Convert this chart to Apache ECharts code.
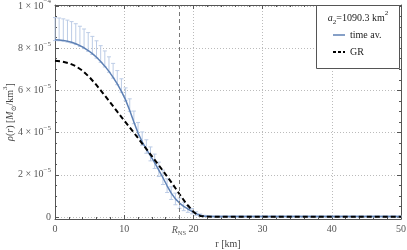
<!DOCTYPE html>
<html><head><meta charset="utf-8">
<script src="https://cdn.jsdelivr.net/npm/echarts@6/dist/echarts.min.js"></script>
<style>html,body{margin:0;padding:0;background:#fff}#c{width:407px;height:250px}</style>
</head><body><div id="c"></div>
<script>
// ---- data (density in units of 1e-5 Msun/km^3) ----
const rTimeAv = [0,0.6,1.2,1.8,2.4,3,3.6,4.2,4.8,5.4,6,6.6,7.2,7.8,8.4,9,9.6,10.2,10.8,11.4,12,12.6,13.2,13.8,14.4,15,15.6,16.2,16.8,17.4,18,18.6,19.2,19.8,20.4,21,21.6,22.2,22.8,23.4,24,24.6,25.2,25.8,26.4,27,27.6,28.2,28.8,29.4,30,30.6,31.2,31.8,32.4,33,33.6,34.2,34.8,35.4,36,36.6,37.2,37.8,38.4,39,39.6,40.2,40.8,41.4,42,42.6,43.2,43.8,44.4,45,45.6,46.2,46.8,47.4,48,48.6,49.2,49.8];
const rhoTimeAv = [8.40,8.39,8.37,8.33,8.28,8.21,8.12,8.02,7.89,7.74,7.57,7.37,7.15,6.90,6.62,6.31,5.95,5.55,5.05,4.50,3.98,3.56,3.22,2.90,2.58,2.22,1.86,1.48,1.13,0.86,0.66,0.50,0.38,0.27,0.16,0.08,0.04,0.03,
0.02,0.02,0.02,0.02,0.02,0.02,0.02,0.02,0.02,0.02,0.02,0.02,0.02,0.02,0.02,0.02,0.02,0.02,0.02,0.02,0.02,0.02,0.02,0.02,0.02,0.02,0.02,0.02,0.02,0.02,0.02,0.02,0.02,0.02,0.02,0.02,0.02,0.02,0.02,0.02,0.02,0.02,0.02,0.02,0.02,0.02];
const errUp = [1.05,1.04,1.02,1.00,0.98,0.95,0.92,0.89,0.85,0.82,0.78,0.75,0.72,0.69,0.66,0.63,0.60,0.57,0.55,0.52,0.50,0.47,0.44,0.42,0.40,0.38,0.36,0.33,0.30,0.27,0.24,0.20,0.17,0.13,0.09,0.06,0.04,0.03,
0.03,0.03,0.03,0.03,0.03,0.03,0.03,0.03,0.03,0.03,0.03,0.03,0.03,0.03,0.03,0.03,0.03,0.03,0.03,0.03,0.03,0.03,0.03,0.03,0.03,0.03,0.03,0.03,0.03,0.03,0.03,0.03,0.03,0.03,0.03,0.03,0.03,0.03,0.03,0.03,0.03,0.03,0.03,0.03,0.03,0.03];
const errDown = [0.04,0.04,0.04,0.04,0.04,0.04,0.04,0.04,0.04,0.04,0.04,0.04,0.04,0.04,0.04,0.04,0.04,0.04,0.04,0.08,0.12,0.16,0.20,0.24,0.28,0.30,0.32,0.32,0.30,0.28,0.25,0.20,0.16,0.12,0.08,0.05,0.03,0.02,
0.02,0.02,0.02,0.02,0.02,0.02,0.02,0.02,0.02,0.02,0.02,0.02,0.02,0.02,0.02,0.02,0.02,0.02,0.02,0.02,0.02,0.02,0.02,0.02,0.02,0.02,0.02,0.02,0.02,0.02,0.02,0.02,0.02,0.02,0.02,0.02,0.02,0.02,0.02,0.02,0.02,0.02,0.02,0.02,0.02,0.02];
const rGR = [0,1,2,3,4,5,6,7,8,9,10,11,12,13,14,15,16,17,18,19,20,20.5,21,21.5,22,23,25,30,40,50];
const rhoGR = [7.40,7.37,7.29,7.15,6.93,6.62,6.25,5.84,5.42,4.99,4.57,4.16,3.74,3.31,2.88,2.45,2.01,1.56,1.08,0.62,0.25,0.12,0.05,0.03,0.02,0.01,0.01,0.01,0.01,0.01];
const R_NS = 17.9;
const xTicks = [0,10,20,30,40,50];
const a2Value = '1090.3';
const seriesNames = ['time av.', 'GR'];

const FONT = '"Liberation Serif","DejaVu Serif",serif';
const BLUE = '#5E81B5';
const FRAME = '#555';

const chart = echarts.init(document.getElementById('c'), null, {renderer:'canvas'});

function fmtY(v){
  if (v < -1e-6) return '';
  const k = Math.round(v);
  if (Math.abs(v-k) > 1e-6) return '';
  if (k === 0) return '{b|0}';
  if (k === 10) return '{b|1 × 10}{e|−4}';
  return '{b|' + k + ' × 10}{e|−5}';
}

const barData = rTimeAv.map((r,i)=>[r, rhoTimeAv[i]-errDown[i], rhoTimeAv[i]+errUp[i]]);
const yMin = -0.095, yMax = 10.047;

const tickCommon = {show:true, inside:true, length:4, lineStyle:{color:FRAME, width:1}};
const minorCommon = {show:true, length:2, lineStyle:{color:FRAME, width:1}};

chart.setOption({
  animation:false,
  backgroundColor:'#fff',
  grid:{left:55, right:6, top:5, bottom:31, containLabel:false, outerBoundsMode:'none'},
  xAxis:[{
    type:'value', min:xTicks[0], max:xTicks[xTicks.length-1], interval:10, position:'bottom',
    axisLine:{show:true, onZero:false, lineStyle:{color:FRAME, width:1}},
    axisTick:tickCommon, minorTick:Object.assign({splitNumber:5}, minorCommon),
    splitLine:{show:true, lineStyle:{color:'#bbb', type:[1,2], width:1}},
    axisLabel:{margin:5, fontFamily:FONT, fontSize:10, color:'#555'},
    name:'r [km]', nameLocation:'middle', nameGap:18,
    nameTextStyle:{fontFamily:FONT, fontSize:10, color:'#444'}
  },{
    type:'value', min:xTicks[0], max:xTicks[xTicks.length-1], interval:10, position:'top',
    axisLine:{show:true, onZero:false, lineStyle:{color:FRAME, width:1}},
    axisTick:tickCommon, minorTick:Object.assign({splitNumber:5}, minorCommon),
    splitLine:{show:false}, axisLabel:{show:false}
  }],
  yAxis:[{
    type:'value', min:yMin, max:yMax, position:'left',
    axisLine:{show:true, onZero:false, lineStyle:{color:FRAME, width:1}},
    axisTick:tickCommon, minorTick:Object.assign({splitNumber:4}, minorCommon),
    splitLine:{show:true, lineStyle:{color:'#bbb', type:[1,2], width:1}},
    axisLabel:{formatter:fmtY, margin:4, color:'#555', showMinLabel:true, showMaxLabel:true,
      rich:{
        b:{fontFamily:FONT, fontSize:10, color:'#555', lineHeight:16},
        e:{fontFamily:FONT, fontSize:7, color:'#555', lineHeight:9, verticalAlign:'top'}
      }}
  },{
    type:'value', min:yMin, max:yMax, position:'right',
    axisLine:{show:true, onZero:false, lineStyle:{color:FRAME, width:1}},
    axisTick:tickCommon, minorTick:Object.assign({splitNumber:4}, minorCommon),
    splitLine:{show:false}, axisLabel:{show:false}
  }],
  series:[{
    type:'custom', name:'err', z:1, silent:true,
    encode:{x:0, y:[1,2]},
    data:barData,
    renderItem:function(params, api){
      const x = api.value(0), lo = api.value(1), hi = api.value(2);
      const pLo = api.coord([x, lo]), pHi = api.coord([x, hi]);
      const hw = 2;
      const st = {stroke:'#bccce6', lineWidth:1};
      return {type:'group', children:[
        {type:'line', shape:{x1:pLo[0], y1:pLo[1], x2:pHi[0], y2:pHi[1]}, style:st},
        {type:'line', shape:{x1:pHi[0]-hw, y1:pHi[1], x2:pHi[0]+hw, y2:pHi[1]}, style:st},
        {type:'line', shape:{x1:pLo[0]-hw, y1:pLo[1], x2:pLo[0]+hw, y2:pLo[1]}, style:st}
      ]};
    }
  },{
    type:'line', name:seriesNames[0], z:3, showSymbol:false, smooth:false,
    data:rTimeAv.map((r,i)=>[r, rhoTimeAv[i]]),
    lineStyle:{color:BLUE, width:1.5}
  },{
    type:'line', name:seriesNames[1], z:4, showSymbol:false, smooth:false,
    data:rGR.map((r,i)=>[r, rhoGR[i]]),
    lineStyle:{color:'#000', width:2, type:[5,3]},
    markLine:{
      silent:true, symbol:'none', animation:false,
      lineStyle:{color:'#777', type:[4,3], width:1},
      label:{show:true, position:'start', distance:4, formatter:'{r|R}{s|NS}',
        rich:{
          r:{fontFamily:FONT, fontStyle:'italic', fontSize:10, color:'#555', lineHeight:14},
          s:{fontFamily:FONT, fontSize:6.5, color:'#555', lineHeight:8, verticalAlign:'bottom'}
        }},
      data:[{xAxis:R_NS}]
    }
  }],
  graphic:[
    {type:'text', x:10, y:112, rotation:Math.PI/2, style:{
      text:'{i|ρ}{n|(}{i|r}{n|) [}{i|M}{s|⊙}{n|/km}{p|3}{n|]}', align:'center', verticalAlign:'middle',
      rich:{
        i:{fontFamily:FONT, fontStyle:'italic', fontSize:10, fill:'#444', lineHeight:16},
        n:{fontFamily:FONT, fontSize:10, fill:'#444', lineHeight:16},
        s:{fontFamily:FONT, fontSize:7, fill:'#444', lineHeight:9, verticalAlign:'bottom'},
        p:{fontFamily:FONT, fontSize:7, fill:'#444', lineHeight:9, verticalAlign:'top'}
      }}},
    {type:'rect', z:100, shape:{x:316.5, y:5.5, width:83, height:63},
      style:{fill:'#fff', stroke:'#555', lineWidth:1}},
    {type:'text', z:101, x:358, y:18, style:{
      text:'{i|a}{s|2}{n|=' + a2Value + ' km}{p|2}', align:'center', verticalAlign:'middle',
      rich:{
        i:{fontFamily:FONT, fontStyle:'italic', fontSize:10, fill:'#222', lineHeight:16},
        n:{fontFamily:FONT, fontSize:10, fill:'#222', lineHeight:16},
        s:{fontFamily:FONT, fontSize:7, fill:'#222', lineHeight:9, verticalAlign:'bottom'},
        p:{fontFamily:FONT, fontSize:7, fill:'#222', lineHeight:9, verticalAlign:'top'}
      }}},
    {type:'line', z:101, shape:{x1:333, y1:35, x2:345, y2:35}, style:{stroke:BLUE, lineWidth:1.5}},
    {type:'text', z:101, x:350, y:35, style:{text:seriesNames[0], fontFamily:FONT, fontSize:10, fill:'#222', verticalAlign:'middle'}},
    {type:'line', z:101, shape:{x1:333, y1:52, x2:345, y2:52}, style:{stroke:'#000', lineWidth:2, lineDash:[3,2]}},
    {type:'text', z:101, x:350, y:52, style:{text:seriesNames[1], fontFamily:FONT, fontSize:10, fill:'#222', verticalAlign:'middle'}}
  ]
});
</script>
</body></html>
